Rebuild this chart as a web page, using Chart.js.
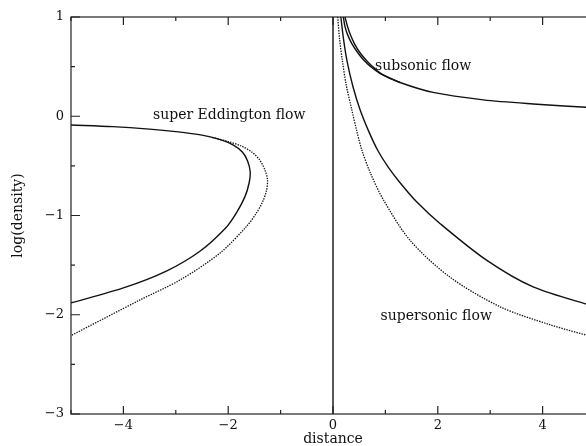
<!DOCTYPE html>
<html>
<head>
<meta charset="utf-8">
<script src="https://cdn.jsdelivr.net/npm/chart.js@4.4.1/dist/chart.umd.min.js"></script>
<style>
  html, body { margin: 0; padding: 0; background: #fff; overflow: hidden; }
  #wrap { width: 600px; height: 446px; }
</style>
</head>
<body>
<div id="wrap"><canvas id="chart"></canvas></div>
<script>
// axis ranges
const xRange = [-5, 5];
const yRange = [-3, 1];

// super Eddington flow (left), solid and dotted
const eddSolidX = [-5.0, -4.2, -3.5, -3.0, -2.5, -2.15, -1.9, -1.73, -1.63, -1.58, -1.6, -1.68, -1.84, -2.04, -2.54, -3.18, -4.0, -5.0];
const eddSolidY = [-0.088, -0.105, -0.13, -0.155, -0.19, -0.235, -0.29, -0.36, -0.45, -0.56, -0.67, -0.81, -0.97, -1.12, -1.36, -1.56, -1.73, -1.88];
const eddDotX = [-2.3, -2.0, -1.75, -1.55, -1.4, -1.3, -1.25, -1.27, -1.35, -1.48, -1.65, -2.16, -2.92, -3.68, -5.0];
const eddDotY = [-0.215, -0.255, -0.3, -0.36, -0.44, -0.54, -0.64, -0.75, -0.87, -0.99, -1.11, -1.38, -1.65, -1.85, -2.21];

// subsonic flow (two nearly coincident curves)
const subAX = [0.197, 0.23, 0.28, 0.357, 0.46, 0.58, 0.72, 0.9, 1.28, 1.91, 2.87, 3.82, 5.0];
const subAY = [1.0, 0.9, 0.82, 0.735, 0.65, 0.57, 0.5, 0.43, 0.34, 0.24, 0.165, 0.124, 0.085];
const subBX = [0.229, 0.28, 0.34, 0.42, 0.53, 0.66, 0.8, 0.95, 1.28];
const subBY = [1.0, 0.9, 0.81, 0.72, 0.63, 0.55, 0.48, 0.42, 0.34];

// supersonic flow, solid and dotted
const supSolidX = [0.15, 0.2, 0.27, 0.38, 0.52, 0.68, 0.85, 1.05, 1.28, 1.6, 2.04, 2.93, 3.82, 5.0];
const supSolidY = [1.0, 0.78, 0.55, 0.3, 0.06, -0.15, -0.34, -0.51, -0.67, -0.865, -1.08, -1.45, -1.72, -1.92];
const supDotX = [0.09, 0.125, 0.177, 0.25, 0.36, 0.45, 0.55, 0.72, 0.96, 1.47, 2.23, 3.19, 4.14, 5.0];
const supDotY = [1.0, 0.78, 0.567, 0.32, 0.063, -0.14, -0.34, -0.58, -0.84, -1.25, -1.62, -1.92, -2.10, -2.23];

// vertical line at distance 0
const axisLineX = [0, 0];
const axisLineY = [-3, 1];

// text labels inside the plot (data coordinates)
const noteText = ['super Eddington flow', 'subsonic flow', 'supersonic flow'];
const noteX = [-1.98, 1.72, 1.97];
const noteY = [0.01, 0.5, -2.02];

const serif = '"DejaVu Serif", "Liberation Serif", serif';
const ink = '#111';

const pts = (xs, ys) => xs.map((x, i) => ({ x: x, y: ys[i] }));
const fmt = v => (v < 0 ? '\u2212' + Math.abs(v) : String(v));

function curve(xs, ys, dotted) {
  return {
    data: pts(xs, ys),
    showLine: true,
    borderColor: ink,
    borderWidth: dotted ? 1.3 : 1.4,
    borderDash: dotted ? [1.4, 1.2] : [],
    pointRadius: 0,
    tension: 0.3,
    fill: false
  };
}

// frame with inward ticks, plus the flow labels
const framePlugin = {
  id: 'frame',
  afterDatasetsDraw(chart) {
    const { ctx, chartArea: a, scales: { x, y } } = chart;
    ctx.save();
    ctx.strokeStyle = '#222';
    ctx.lineWidth = 1.2;
    ctx.strokeRect(a.left, a.top, a.right - a.left, a.bottom - a.top);
    ctx.beginPath();
    for (let v = xRange[0]; v <= xRange[1]; v++) {
      const px = x.getPixelForValue(v);
      const len = v % 2 === 0 ? 8 : 4;
      ctx.moveTo(px, a.bottom); ctx.lineTo(px, a.bottom - len);
      ctx.moveTo(px, a.top); ctx.lineTo(px, a.top + len);
    }
    for (let v = yRange[0]; v <= yRange[1]; v += 0.5) {
      const py = y.getPixelForValue(v);
      const len = Number.isInteger(v) ? 9 : 4;
      ctx.moveTo(a.left, py); ctx.lineTo(a.left + len, py);
      ctx.moveTo(a.right, py); ctx.lineTo(a.right - len, py);
    }
    ctx.stroke();

    ctx.fillStyle = ink;
    ctx.font = '14px ' + serif;
    ctx.textAlign = 'center';
    ctx.textBaseline = 'middle';
    noteText.forEach((t, i) => {
      ctx.fillText(t, x.getPixelForValue(noteX[i]), y.getPixelForValue(noteY[i]));
    });
    ctx.restore();
  }
};

new Chart(document.getElementById('chart'), {
  type: 'scatter',
  data: {
    datasets: [
      curve(axisLineX, axisLineY, false),
      curve(eddSolidX, eddSolidY, false),
      curve(eddDotX, eddDotY, true),
      curve(subAX, subAY, false),
      curve(subBX, subBY, false),
      curve(supSolidX, supSolidY, false),
      curve(supDotX, supDotY, true)
    ]
  },
  options: {
    responsive: true,
    maintainAspectRatio: false,
    animation: false,
    layout: { padding: { top: 17, right: 5, left: 0, bottom: 0 } },
    plugins: { legend: { display: false }, tooltip: { enabled: false } },
    scales: {
      x: {
        type: 'linear',
        min: xRange[0],
        max: xRange[1],
        grid: { display: false, drawTicks: false },
        border: { display: false },
        ticks: {
          stepSize: 1,
          autoSkip: false,
          maxRotation: 0,
          padding: 4,
          color: ink,
          font: { family: serif, size: 13 },
          callback: v => (v % 2 === 0 ? fmt(v) : '')
        },
        title: {
          display: true,
          text: 'distance',
          color: ink,
          font: { family: serif, size: 14 },
          padding: { top: 0, bottom: -2 }
        },
        afterFit: s => { s.height = 32; }
      },
      y: {
        type: 'linear',
        min: yRange[0],
        max: yRange[1],
        grid: { display: false, drawTicks: false },
        border: { display: false },
        ticks: {
          stepSize: 1,
          padding: 7,
          color: ink,
          font: { family: serif, size: 13 },
          callback: v => fmt(v)
        },
        title: {
          display: true,
          text: 'log(density)',
          color: ink,
          font: { family: serif, size: 14 },
          padding: { top: 10, bottom: 0 }
        },
        afterFit: s => { s.width = 71; }
      }
    }
  },
  plugins: [framePlugin]
});
</script>
</body>
</html>
